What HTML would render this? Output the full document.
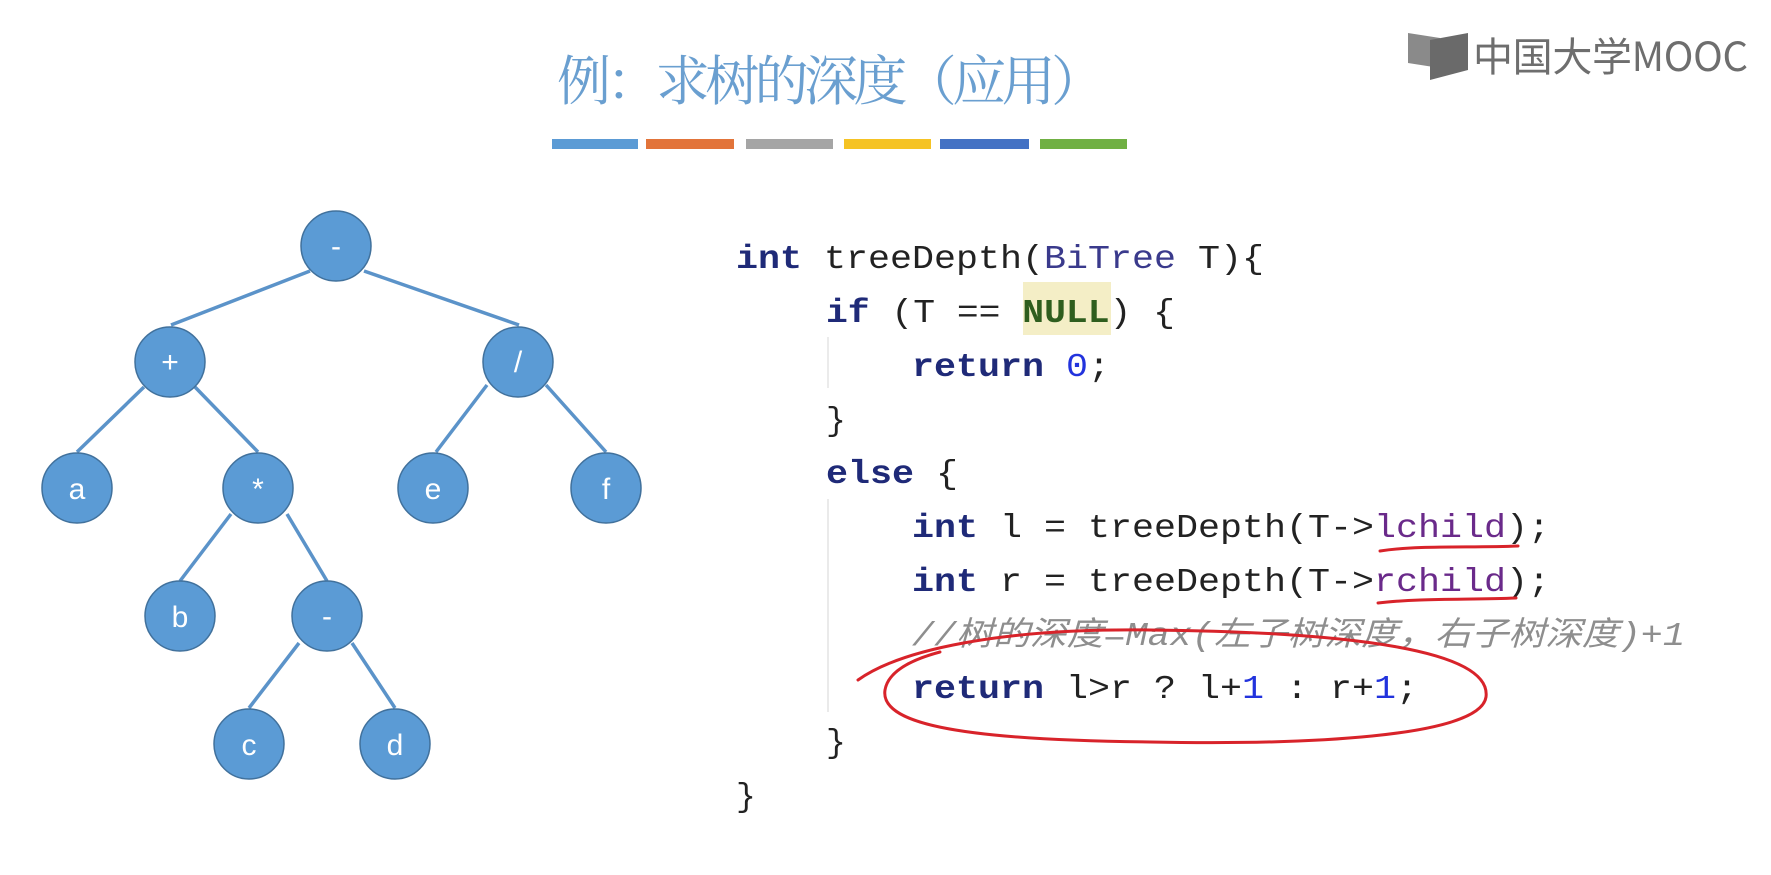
<!DOCTYPE html>
<html><head><meta charset="utf-8"><style>
html,body{margin:0;padding:0;background:#fff;}
svg{display:block;}
.c{font-family:"Liberation Mono","Noto Sans CJK SC",monospace;font-size:33px;fill:#222;}
.k{fill:#1f2a78;font-weight:bold;}
</style></head><body>
<svg width="1771" height="875" viewBox="0 0 1771 875" xmlns="http://www.w3.org/2000/svg">
<rect width="1771" height="875" fill="#fff"/>
<text x="831" y="100" text-anchor="middle" font-family="Liberation Serif,'Noto Serif CJK SC',serif" font-size="54" fill="#6a9fd0" textLength="548">例：求树的深度（应用）</text>
<g>
<rect x="552" y="139" width="86" height="10" fill="#5b9bd5"/>
<rect x="646" y="139" width="88" height="10" fill="#e2743a"/>
<rect x="746" y="139" width="87" height="10" fill="#a5a5a5"/>
<rect x="844" y="139" width="87" height="10" fill="#f5c324"/>
<rect x="940" y="139" width="89" height="10" fill="#4472c4"/>
<rect x="1040" y="139" width="87" height="10" fill="#70b043"/>
</g>
<g>
<polygon points="1408,33 1440,38 1440,68 1408,63" fill="#8a8a8a"/>
<polygon points="1430,40 1468,33 1468,70 1430,80" fill="#6a6a6a"/>
<text x="1473" y="71" font-family="'Noto Sans CJK SC',sans-serif" font-size="40" fill="#6e6e6e" textLength="275">中国大学MOOC</text>
</g>
<g stroke="#5b93c9" stroke-width="3.5">
<line x1="310" y1="271" x2="171" y2="325"/>
<line x1="364" y1="271" x2="519" y2="325"/>
<line x1="144" y1="387" x2="77" y2="452"/>
<line x1="195" y1="387" x2="258" y2="452"/>
<line x1="487" y1="385" x2="436" y2="452"/>
<line x1="546" y1="385" x2="606" y2="452"/>
<line x1="231" y1="514" x2="180" y2="581"/>
<line x1="287" y1="514" x2="327" y2="581"/>
<line x1="299" y1="643" x2="249" y2="708"/>
<line x1="352" y1="643" x2="395" y2="708"/>
</g>
<g fill="#5b9bd5" stroke="#41719c" stroke-width="1.5">
<ellipse cx="336" cy="246" rx="35" ry="35"/>
<ellipse cx="170" cy="362" rx="35" ry="35"/>
<ellipse cx="518" cy="362" rx="35" ry="35"/>
<ellipse cx="77" cy="488" rx="35" ry="35"/>
<ellipse cx="258" cy="488" rx="35" ry="35"/>
<ellipse cx="433" cy="488" rx="35" ry="35"/>
<ellipse cx="606" cy="488" rx="35" ry="35"/>
<ellipse cx="180" cy="616" rx="35" ry="35"/>
<ellipse cx="327" cy="616" rx="35" ry="35"/>
<ellipse cx="249" cy="744" rx="35" ry="35"/>
<ellipse cx="395" cy="744" rx="35" ry="35"/>
</g>
<g font-family="Liberation Sans,sans-serif" font-size="30" fill="#fff" text-anchor="middle">
<text x="336" y="256">-</text>
<text x="170" y="372">+</text>
<text x="518" y="372">/</text>
<text x="77" y="499">a</text>
<text x="258" y="499">*</text>
<text x="433" y="499">e</text>
<text x="606" y="499">f</text>
<text x="180" y="627">b</text>
<text x="327" y="626">-</text>
<text x="249" y="755">c</text>
<text x="395" y="755">d</text>
</g>
<rect x="1023" y="282" width="88" height="53" fill="#f4eec6"/>
<g stroke="#e4e4e4" stroke-width="1.5">
<line x1="828" y1="337" x2="828" y2="388"/>
<line x1="828" y1="499" x2="828" y2="712"/>
</g>
<g class="c">
<text x="736" y="268" textLength="528" lengthAdjust="spacingAndGlyphs"><tspan class="k">int</tspan> treeDepth(<tspan fill="#3a3a8c">BiTree</tspan> T){</text>
<text x="826" y="322" textLength="349" lengthAdjust="spacingAndGlyphs"><tspan class="k">if</tspan> (T == <tspan fill="#2f5e1e" font-weight="bold">NULL</tspan>) {</text>
<text x="912" y="376" textLength="198" lengthAdjust="spacingAndGlyphs"><tspan class="k">return</tspan> <tspan fill="#2233dd">0</tspan>;</text>
<text x="826" y="430">}</text>
<text x="826" y="483" textLength="132" lengthAdjust="spacingAndGlyphs"><tspan class="k">else</tspan> {</text>
<text x="912" y="537" textLength="638" lengthAdjust="spacingAndGlyphs"><tspan class="k">int</tspan> l = treeDepth(T-&gt;<tspan fill="#6a2a8a">lchild</tspan>);</text>
<text x="912" y="591" textLength="638" lengthAdjust="spacingAndGlyphs"><tspan class="k">int</tspan> r = treeDepth(T-&gt;<tspan fill="#6a2a8a">rchild</tspan>);</text>
<text x="912" y="645" textLength="773" lengthAdjust="spacingAndGlyphs" fill="#8e8e8e" font-style="italic">//树的深度=Max(左子树深度，右子树深度)+1</text>
<text x="912" y="698" textLength="506" lengthAdjust="spacingAndGlyphs"><tspan class="k">return</tspan> l&gt;r ? l+<tspan fill="#2233dd">1</tspan> : r+<tspan fill="#2233dd">1</tspan>;</text>
<text x="826" y="752">}</text>
<text x="736" y="806">}</text>
</g>
<g fill="none" stroke="#d8232a" stroke-width="3" stroke-linecap="round">
<path d="M1380,551 C1420,545 1470,548 1518,546"/>
<path d="M1378,603 C1420,598 1470,600 1516,598"/>
<path d="M858,680 C900,650 1000,628 1150,630 C1350,632 1492,650 1486,697 C1480,738 1300,745 1150,742 C950,740 880,722 885,690 C888,672 910,660 940,652"/>
</g>
</svg>
</body></html>
